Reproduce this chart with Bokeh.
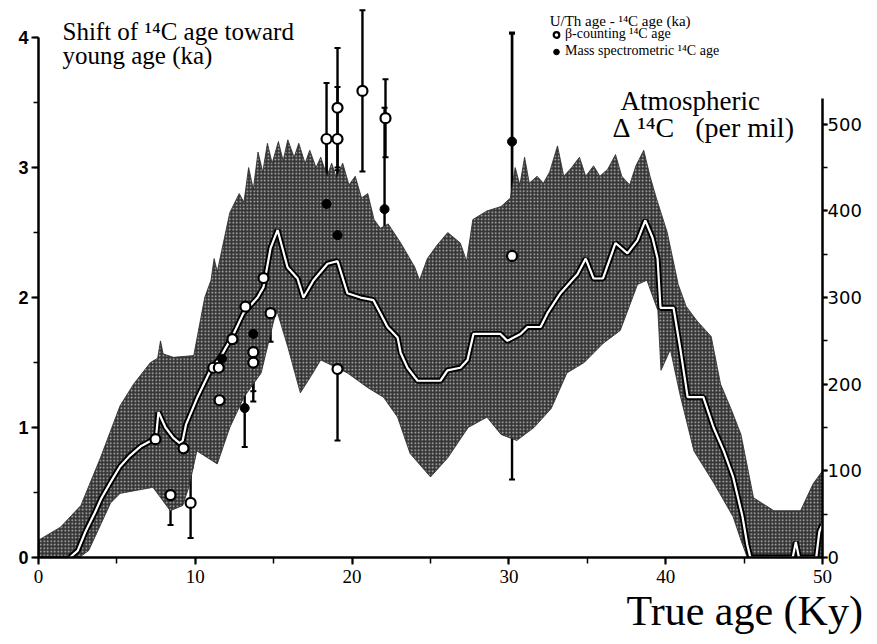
from bokeh.plotting import figure
from bokeh.models import (Range1d, LinearAxis, SingleIntervalTicker, Whisker, TeeHead,
                          ColumnDataSource, Label, Legend, LegendItem, Title)
from bokeh.embed import file_html
from bokeh.resources import INLINE

# ---- Atmospheric D14C band (per mil) : upper and lower envelopes ----
band_up_x = [0.0, 1.4, 2.7, 3.95, 5.2, 6.06, 7.14, 7.6, 7.78, 7.95, 8.6, 9.9, 10.6, 11.0, 11.2, 11.4,
             12.2, 12.8, 13.1, 13.4, 13.7, 14.0, 14.3, 14.6, 14.9, 15.3, 15.6, 15.9, 16.3, 16.6,
             17.0, 17.3, 17.7, 18.0, 18.4, 18.7, 19.0, 19.4, 19.8, 20.2, 20.6, 21.0, 21.4, 21.8,
             22.3, 23.1, 24.0, 24.3, 24.8, 25.4, 26.1, 26.9, 27.3, 27.7, 28.6, 29.5, 30.1, 30.4,
             30.7, 31.0, 31.3, 31.8, 32.2, 32.6, 33.1, 33.5, 34.0, 34.5, 34.9, 35.4, 35.8, 36.3,
             36.8, 37.2, 37.7, 38.1, 38.6, 39.0, 39.4, 40.1, 40.8, 41.3, 42.0, 42.9, 43.5, 44.2,
             44.8, 45.6, 46.9, 48.6, 49.4, 50.0]
band_up_y = [20, 35, 60, 115, 175, 200, 225, 230, 250, 235, 231, 233, 300, 320, 345, 330,
             398, 420, 410, 450, 425, 468, 445, 478, 455, 480, 458, 482, 462, 478,
             455, 470, 450, 462, 440, 455, 438, 455, 430, 440, 415, 420, 390, 380,
             385, 363, 335, 320, 345, 360, 375, 363, 342, 390, 400, 405, 415, 450,
             430, 462, 432, 440, 432, 445, 475, 440, 450, 462, 440, 452, 440, 448,
             465, 440, 430, 452, 470, 440, 415, 375, 315, 290, 273, 255, 200, 170,
             142, 69, 54, 54, 85, 100]
band_lo_x = [0.0, 2.6, 3.2, 4.6, 5.2, 7.3, 8.4, 9.2, 9.6, 10.1, 11.4, 12.2, 13.1, 14.2, 15.0, 15.2,
             15.9, 16.7, 17.4, 18.0, 19.7, 21.0, 22.0, 22.9, 23.7, 25.0, 26.1, 27.4, 28.6, 29.5,
             30.5, 31.6, 32.7, 33.7, 34.8, 36.0, 37.1, 38.2, 38.8, 39.5, 39.7, 40.3, 40.9, 41.8,
             43.1, 44.3, 44.8, 45.2, 50.0]
band_lo_y = [0, 0, 8, 63, 74, 81, 54, 60, 82, 123, 108, 150, 185, 213, 273, 285,
             243, 190, 210, 228, 213, 196, 185, 162, 120, 93, 115, 150, 162, 142,
             135, 150, 172, 213, 225, 247, 262, 315, 320, 285, 216, 240, 189, 123,
             85, 47, 20, 0, 0]

# ---- central D14C curve (per mil) ----
curve_x = [2.0, 2.5, 3.0, 3.6, 4.0, 4.6, 5.2, 5.8, 6.5, 7.2, 7.5, 7.65, 8.1, 8.6, 9.0, 9.2, 9.4,
           10.14, 10.97, 11.6, 12.44, 13.07, 13.97, 14.35, 14.8, 15.25, 15.88, 16.52, 16.9, 17.54,
           18.43, 19.07, 19.7, 20.54, 21.36, 21.8, 22.26, 22.9, 23.1, 23.53, 24.17, 25.64, 26.08,
           26.9, 27.36, 27.74, 29.46, 29.9, 30.74, 31.19, 32.02, 32.46, 33.29, 34.12, 34.37, 34.9,
           35.4, 36.0, 36.8, 37.56, 38.2, 38.7, 39.16, 39.48, 39.67, 40.5, 40.94, 41.4, 42.4, 43.05,
           43.7, 44.3, 44.9, 45.2, 45.4, 48.1, 48.3, 48.5, 49.6, 49.8, 50.0]
curve_y = [0, 8, 30, 52, 68, 87, 105, 117, 128, 135, 140, 168, 150, 138, 132, 135, 153,
           185, 216, 231, 258, 282, 300, 312, 357, 378, 335, 322, 300, 320,
           339, 342, 305, 300, 297, 282, 266, 254, 236, 219, 204, 204, 216,
           219, 228, 258, 258, 250, 258, 266, 266, 282, 305, 322, 327, 345,
           322, 322, 363, 351, 366, 389, 369, 345, 288, 288, 240, 185, 185, 150,
           123, 93, 47, 15, 0, 0, 18, 0, 0, 30, 38]

# ---- U/Th age - 14C age (ka) : beta-counting (open) ----
beta_x = [7.46, 8.42, 9.25, 9.7, 11.15, 11.5, 11.55, 12.37, 13.2, 13.7, 13.7, 14.35, 14.8,
          18.37, 19.07, 19.07, 19.07, 20.66, 22.13, 30.2]
beta_y = [0.91, 0.48, 0.84, 0.42, 1.46, 1.46, 1.21, 1.68, 1.93, 1.58, 1.5, 2.15, 1.88,
          3.22, 3.22, 3.46, 1.45, 3.59, 3.38, 2.32]
beta_err = [0.22, 0.23, 0.22, 0.27, 0.2, 0.25, 0.22, 0.28, 0.22, 0.3, 0.3, 0.2, 0.22,
            0.43, 0.4, 0.46, 0.55, 0.62, 0.3, 1.72]

# ---- mass spectrometric (filled) ----
ms_x = [11.7, 13.15, 13.7, 18.37, 19.07, 22.07, 30.2]
ms_y = [1.53, 1.15, 1.72, 2.72, 2.48, 2.68, 3.2]
ms_err = [0.2, 0.3, 0.25, 0.5, 0.5, 0.78, 0.83]

Y_MAX = 4.27
SCALE = 150.0  # per mil per ka-unit of left axis

p = figure(width=877, height=644, output_backend="svg", toolbar_location=None,
           x_range=Range1d(0, 50), y_range=Range1d(0, Y_MAX),
           min_border_left=38, min_border_right=55, min_border_top=2, min_border_bottom=87)
p.outline_line_color = None
p.xgrid.visible = False
p.ygrid.visible = False
p.background_fill_color = "white"
p.extra_y_ranges = {"d14c": Range1d(0, Y_MAX * SCALE)}

# band (halftone look)
p.patch(band_up_x + band_lo_x[::-1], band_up_y + band_lo_y[::-1], y_range_name="d14c",
        fill_color="#353535", line_color="#2a2a2a", line_width=0.8,
        hatch_pattern="dot", hatch_color="white", hatch_alpha=0.7, hatch_scale=3.5, hatch_weight=1.2)
# curve: black outline + white core
p.line(curve_x, curve_y, y_range_name="d14c", line_color="black", line_width=6)
p.line(curve_x, curve_y, y_range_name="d14c", line_color="white", line_width=2.2)

# error bars
bsrc = ColumnDataSource(dict(x=beta_x, lo=[y - e for y, e in zip(beta_y, beta_err)],
                             up=[y + e for y, e in zip(beta_y, beta_err)]))
msrc = ColumnDataSource(dict(x=ms_x, lo=[y - e for y, e in zip(ms_y, ms_err)],
                             up=[y + e for y, e in zip(ms_y, ms_err)]))
for src in (bsrc, msrc):
    p.add_layout(Whisker(source=src, base="x", lower="lo", upper="up", dimension="height",
                         line_color="black", line_width=2.4,
                         upper_head=TeeHead(size=6, line_width=2, line_color="black"),
                         lower_head=TeeHead(size=6, line_width=2, line_color="black")))

r_fill = p.scatter(ms_x, ms_y, marker="circle", size=9, fill_color="black", line_color="black")
r_open = p.scatter(beta_x, beta_y, marker="circle", size=10, fill_color="white", line_color="black",
                   line_width=2.2)

# axes
ax = p.yaxis[0]
ax.ticker = SingleIntervalTicker(interval=1, num_minor_ticks=2)
ax.bounds = (0, 4)
xa = p.xaxis[0]
xa.ticker = SingleIntervalTicker(interval=10, num_minor_ticks=2)
ra = LinearAxis(y_range_name="d14c", ticker=SingleIntervalTicker(interval=100, num_minor_ticks=2),
                bounds=(0, 530))
p.add_layout(ra, "right")
for a in (ax, xa, ra):
    a.axis_line_width = 2.5
    a.axis_line_color = "black"
    a.major_tick_line_width = 2
    a.minor_tick_line_width = 1.5
    a.major_tick_in = 0
    a.major_tick_out = 7
    a.minor_tick_in = 0
    a.minor_tick_out = 5
    a.major_label_text_color = "black"
ax.major_label_text_font = "Liberation Sans"
ax.major_label_text_font_style = "bold"
ax.major_label_text_font_size = "18px"
ax.major_label_standoff = 3
xa.major_label_text_font = "Liberation Sans Narrow"
xa.major_label_text_font_size = "19px"
xa.major_label_standoff = 5
xa.minor_tick_out = 6
ra.major_tick_out = 5
ra.major_label_text_font = "DejaVu Sans"
ra.major_label_text_font_size = "18px"
ra.major_label_standoff = 0

SERIF = "Liberation Serif"
def lab(x, y, t, size, align="left"):
    p.add_layout(Label(x=x, y=y, text=t, text_font=SERIF, text_font_size=size,
                       text_color="black", text_align=align, text_baseline="alphabetic"))

lab(1.53, 4.05, "Shift of \u00b9\u2074C age toward", "25px")
lab(1.53, 3.86, "young age (ka)", "25px")
lab(37.12, 3.51, "Atmospheric", "27px")
lab(36.6, 3.31, "\u0394\u00a0\u00b9\u2074C\u00a0\u00a0\u00a0(per\u00a0mil)", "28px")
lab(32.6, 4.13, "U/Th age - \u00b9\u2074C age (ka)", "15px")

p.add_layout(Title(text="True age  (Ky)", align="left", offset=588, text_font=SERIF,
                   text_font_size="42px", text_font_style="normal", text_color="black",
                   standoff=0), "below")

# legend: one row per Legend so that the rows sit close together
def add_leg(label, rend, vy):
    p.add_layout(Legend(items=[LegendItem(label=label, renderers=[rend])], location=(511, vy),
                        label_text_font=SERIF, label_text_font_size="14px",
                        label_text_color="black", glyph_width=14, glyph_height=15,
                        label_height=15, label_standoff=2, padding=0, margin=0, spacing=0,
                        border_line_alpha=0, background_fill_alpha=0))

add_leg("\u03b2-counting \u00b9\u2074C age", r_open, 515)
add_leg("Mass spectrometric \u00b9\u2074C age", r_fill, 498)

open("out.html", "w").write(file_html(p, INLINE))
